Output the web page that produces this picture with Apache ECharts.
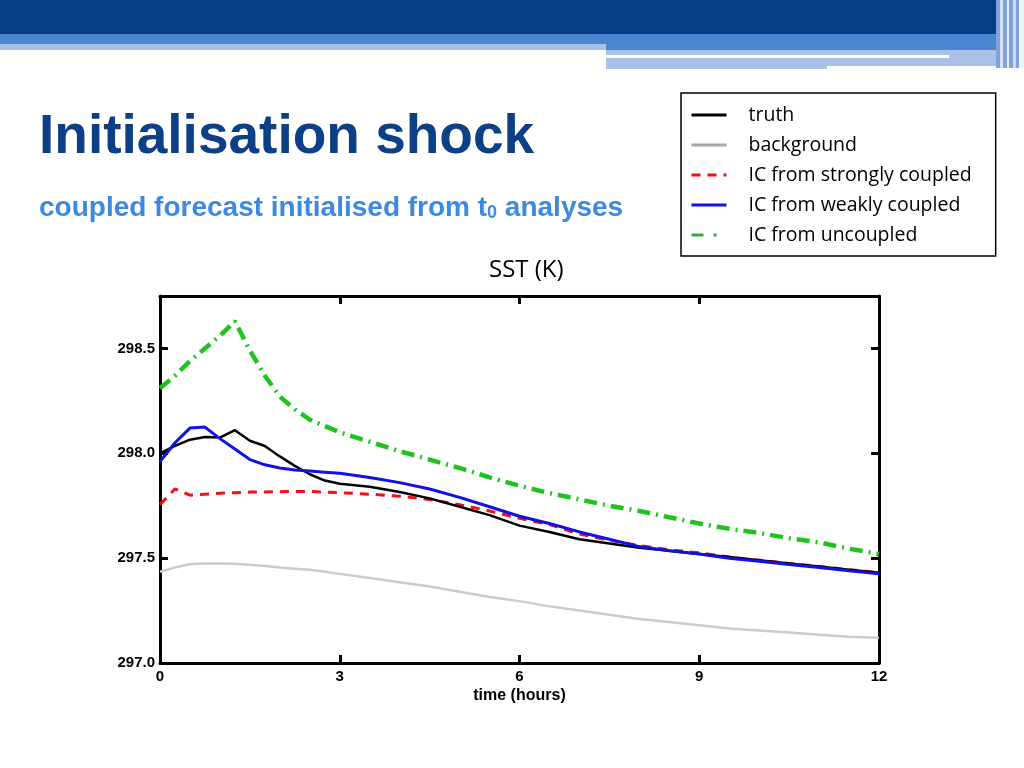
<!DOCTYPE html>
<html>
<head>
<meta charset="utf-8">
<script src="https://cdn.jsdelivr.net/npm/echarts@6/dist/echarts.min.js"></script>
<style>
  html, body { margin: 0; padding: 0; background: #fff; }
  #chart { width: 1024px; height: 768px; }
</style>
</head>
<body>
<div id="chart"></div>
<script>
// time (hours)
const hours = [0, 0.25, 0.5, 0.75, 1, 1.25, 1.5, 1.75, 2, 2.25, 2.5, 2.75, 3, 3.5, 4, 4.5,
  5, 5.5, 6, 6.5, 7, 7.5, 8, 8.5, 9, 9.5, 10, 10.5, 11, 11.5, 12]

// SST (K) for each run
const truth = [298.00, 298.035, 298.065, 298.078, 298.075, 298.11, 298.06, 298.035, 297.985, 297.94,
  297.90, 297.87, 297.855, 297.84, 297.815, 297.785, 297.745, 297.705, 297.655, 297.625, 297.59,
  297.57, 297.55, 297.535, 297.52, 297.505, 297.49, 297.475, 297.46, 297.445, 297.43]
const background = [297.435, 297.455, 297.472, 297.475, 297.475, 297.473, 297.468, 297.462, 297.455,
  297.45, 297.445, 297.435, 297.425, 297.405, 297.385, 297.365, 297.34, 297.315, 297.295, 297.27,
  297.25, 297.23, 297.21, 297.195, 297.18, 297.165, 297.155, 297.145, 297.135, 297.125, 297.12]
const strongly = [297.755, 297.83, 297.80, 297.805, 297.81, 297.812, 297.815, 297.815, 297.817,
  297.818, 297.818, 297.815, 297.812, 297.805, 297.795, 297.78, 297.755, 297.725, 297.69, 297.66,
  297.615, 297.585, 297.56, 297.54, 297.525, 297.505, 297.49, 297.475, 297.46, 297.445, 297.43]
const weakly = [297.96, 298.05, 298.12, 298.125, 298.07, 298.02, 297.97, 297.945, 297.93, 297.92,
  297.915, 297.91, 297.905, 297.885, 297.86, 297.83, 297.79, 297.745, 297.70, 297.665, 297.625,
  297.59, 297.555, 297.535, 297.52, 297.50, 297.485, 297.47, 297.455, 297.44, 297.425]
const uncoupled = [298.31, 298.37, 298.44, 298.50, 298.56, 298.63, 298.49, 298.37, 298.27, 298.21,
  298.16, 298.13, 298.10, 298.055, 298.01, 297.97, 297.93, 297.885, 297.845, 297.81, 297.78,
  297.75, 297.725, 297.695, 297.665, 297.64, 297.62, 297.595, 297.575, 297.545, 297.52]

const names = ['truth', 'background', 'IC from strongly coupled', 'IC from weakly coupled', 'IC from uncoupled']
const xTicks = [0, 3, 6, 9, 12]
const yTicks = [297.0, 297.5, 298.0, 298.5]

const chart = echarts.init(document.getElementById('chart'))

// pair each value with its hour
function pairs(vals) {
  return hours.map((h, i) => [h, vals[i]])
}

const axisCommon = {
  type: 'value',
  axisLine: { show: true, onZero: false, lineStyle: { color: '#000', width: 3 } },
  axisTick: { show: true, inside: true, length: 8, lineStyle: { color: '#000', width: 3 } },
  splitLine: { show: false }
}
const labelFont = { color: '#000', fontSize: 15, fontWeight: 'bold', fontFamily: '"Liberation Sans"' }

const option = {
  animation: false,
  backgroundColor: '#fff',
  graphic: [
    // slide header bands
    { type: 'rect', shape: { x: 0, y: 0, width: 1024, height: 34 }, style: { fill: '#073c87' } },
    { type: 'rect', shape: { x: 0, y: 34, width: 1000, height: 10 }, style: { fill: '#4a86d0' } },
    { type: 'rect', shape: { x: 0, y: 44, width: 606, height: 6 }, style: { fill: '#a9c1e8' } },
    { type: 'rect', shape: { x: 606, y: 44, width: 394, height: 6 }, style: { fill: '#4a86d0' } },
    { type: 'rect', shape: { x: 606, y: 50, width: 400, height: 16 }, style: { fill: '#a9c1e8' } },
    { type: 'rect', shape: { x: 606, y: 66, width: 221, height: 3 }, style: { fill: '#a9c1e8' } },
    { type: 'rect', shape: { x: 606, y: 55, width: 343, height: 3 }, style: { fill: '#fff' } },
    { type: 'rect', shape: { x: 996, y: 0, width: 28, height: 68 }, style: { fill: '#7fa3d8' } },
    { type: 'rect', shape: { x: 1000, y: 0, width: 3, height: 68 }, style: { fill: '#d6e2f3' } },
    { type: 'rect', shape: { x: 1007, y: 0, width: 2, height: 68 }, style: { fill: '#e6eef8' } },
    { type: 'rect', shape: { x: 1013, y: 0, width: 3, height: 68 }, style: { fill: '#c9d8ef' } },
    { type: 'rect', shape: { x: 1019, y: 0, width: 5, height: 68 }, style: { fill: '#eef3fa' } },
    {
      type: 'text', left: 39, top: 110,
      style: { text: 'Initialisation shock', fill: '#0d3f86', font: 'bold 55px "Liberation Sans"' }
    },
    {
      type: 'text', left: 39, top: 194,
      style: {
        text: 'coupled forecast initialised from t{sub|0} analyses',
        fill: '#3a8ae3', font: 'bold 28px "Liberation Sans"',
        rich: { sub: { fontSize: 18, fontWeight: 'bold', fontFamily: '"Liberation Sans"', fill: '#3a8ae3', padding: [10, 0, 0, 0] } }
      }
    },
    {
      type: 'text', left: 489, top: 258,
      style: { text: 'SST (K)', fill: '#000', font: '24px "Open Sans"' }
    }
  ],
  legend: {
    orient: 'vertical',
    left: 681,
    top: 93,
    padding: [12, 24, 11, 9],
    borderColor: '#000',
    borderWidth: 1.5,
    backgroundColor: '#fff',
    itemWidth: 35,
    itemHeight: 14,
    itemGap: 10,
    itemStyle: { opacity: 0 },
    textStyle: { color: '#000', fontSize: 19.5, fontFamily: '"Open Sans"', padding: [0, 0, 0, 17] },
    data: [
      { name: names[0], lineStyle: { width: 3 } },
      { name: names[1], lineStyle: { color: '#a8a8a8', width: 3 } },
      { name: names[2], lineStyle: { width: 3 } },
      { name: names[3], lineStyle: { width: 3 } },
      { name: names[4], lineStyle: { color: '#3aa84c', width: 3, type: [12, 10, 3, 10] } }
    ]
  },
  grid: { left: 160, top: 296, right: 145, bottom: 105 },
  xAxis: [
    Object.assign({}, axisCommon, {
      position: 'bottom', min: 0, max: 12, interval: 3,
      name: 'time (hours)', nameLocation: 'middle', nameGap: 25,
      nameTextStyle: { color: '#000', fontSize: 16, fontWeight: 'bold', fontFamily: '"Liberation Sans"' },
      axisLabel: Object.assign({ margin: 6, customValues: xTicks }, labelFont)
    }),
    Object.assign({}, axisCommon, {
      position: 'top', min: 0, max: 12, interval: 3,
      axisLabel: { show: false }
    })
  ],
  yAxis: [
    Object.assign({}, axisCommon, {
      position: 'left', min: 297, max: 298.75,
      axisTick: Object.assign({}, axisCommon.axisTick, { customValues: yTicks }),
      axisLabel: Object.assign({ margin: 5, customValues: yTicks, formatter: v => v.toFixed(1) }, labelFont)
    }),
    Object.assign({}, axisCommon, {
      position: 'right', min: 297, max: 298.75,
      axisTick: Object.assign({}, axisCommon.axisTick, { customValues: yTicks }),
      axisLabel: { show: false }
    })
  ],
  series: [
    {
      name: names[0], type: 'line', data: pairs(truth), showSymbol: false, symbol: 'none',
      lineStyle: { color: '#000', width: 2.5 }, itemStyle: { color: '#000' }, z: 5
    },
    {
      name: names[1], type: 'line', data: pairs(background), showSymbol: false, symbol: 'none',
      lineStyle: { color: '#cbcbcb', width: 2.5 }, itemStyle: { color: '#cbcbcb' }, z: 2
    },
    {
      name: names[2], type: 'line', data: pairs(strongly), showSymbol: false, symbol: 'none',
      lineStyle: { color: '#f01010', width: 3, type: [9, 7] }, itemStyle: { color: '#f01010' }, z: 4
    },
    {
      name: names[3], type: 'line', data: pairs(weakly), showSymbol: false, symbol: 'none',
      lineStyle: { color: '#1010e8', width: 3 }, itemStyle: { color: '#1010e8' }, z: 6
    },
    {
      name: names[4], type: 'line', data: pairs(uncoupled), showSymbol: false, symbol: 'none',
      lineStyle: { color: '#1ec31e', width: 4.5, type: [13, 6, 2, 6] }, itemStyle: { color: '#1ec31e' }, z: 3
    }
  ]
}

chart.setOption(option)
</script>
</body>
</html>
